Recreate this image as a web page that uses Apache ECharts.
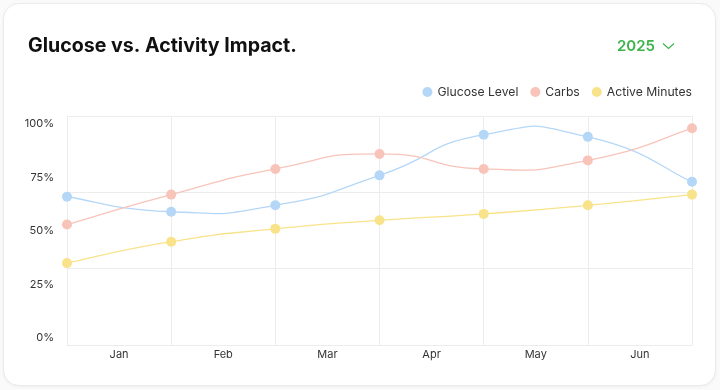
<!DOCTYPE html>
<html>
<head>
<meta charset="utf-8">
<script src="https://cdn.jsdelivr.net/npm/echarts@6/dist/echarts.min.js"></script>
<style>
  html, body { margin: 0; padding: 0; background: #fafafa; }
  #card { position: absolute; left: 3px; top: 3px; width: 711px; height: 381px; background: #fff;
          border: 1px solid #ebebeb; border-radius: 16px; box-shadow: 0 1px 3px rgba(0,0,0,0.05); }
  #chart { position: absolute; left: 0; top: 0; width: 720px; height: 390px; }
</style>
</head>
<body>
<div id="card"></div>
<div id="chart"></div>
<script>
// Point positions (7 points) and visible month labels (6, centred between points)
const pointLabels = ['Jan', 'Feb', 'Mar', 'Apr', 'May', 'Jun', 'Jul'];
const monthLabels = ['Jan', 'Feb', 'Mar', 'Apr', 'May', 'Jun'];
const glucoseLevel = [66, 59, 62, 76, 95, 94, 73];
const carbs = [53, 67, 79, 86, 79, 83, 98];
const activeMinutes = [35, 45, 51, 55, 58, 62, 67];
const gridBands = [0, 1, 2, 3];

const FONT = 'Inter, "Noto Sans", sans-serif';
const TENSION = 0.3;
const chart = echarts.init(document.getElementById('chart'), null, { renderer: 'canvas' });

const dotSeries = (name, data, color) => ({
  name, type: 'line', data,
  xAxisIndex: 2, yAxisIndex: 1, z: 3,
  symbol: 'circle', symbolSize: 10,
  itemStyle: { color },
  lineStyle: { color, width: 0, opacity: 0 },
  emphasis: { disabled: true },
  clip: false
});

const curveSeries = (name, values, color) => ({
  name, type: 'custom', xAxisIndex: 2, yAxisIndex: 1, z: 2, clip: false,
  data: values.map((v, i) => [i, v]),
  silent: true,
  renderItem: (params, api) => {
    const i = params.dataIndex;
    const n = values.length;
    if (i >= n - 1) return null;
    const pt = k => { const j = Math.max(0, Math.min(n - 1, k)); return api.coord([j, values[j]]); };
    const p0 = pt(i - 1), p1 = pt(i), p2 = pt(i + 1), p3 = pt(i + 2);
    return {
      type: 'bezierCurve',
      shape: {
        x1: p1[0], y1: p1[1], x2: p2[0], y2: p2[1],
        cpx1: p1[0] + TENSION * (p2[0] - p0[0]), cpy1: p1[1] + TENSION * (p2[1] - p0[1]),
        cpx2: p2[0] - TENSION * (p3[0] - p1[0]), cpy2: p2[1] - TENSION * (p3[1] - p1[1])
      },
      style: { stroke: color, lineWidth: 1.3, fill: null }
    };
  }
});

chart.setOption({
  animation: false,
  backgroundColor: 'transparent',
  textStyle: { fontFamily: FONT },
  graphic: [
    { type: 'text', left: 28, top: 36, style: { text: 'Glucose vs. Activity Impact.', font: '700 19.6px ' + FONT, fill: '#111' } },
    { type: 'text', left: 617, top: 39, style: { text: '2025', font: '600 15px ' + FONT, fill: '#3bb44a' } },
    { type: 'polyline', shape: { points: [[663, 43.5], [668.5, 48.5], [674, 43.5]] }, style: { stroke: '#3bb44a', lineWidth: 1.2, fill: null } }
  ],
  legend: {
    right: 23, top: 81,
    icon: 'circle', itemWidth: 10, itemHeight: 10, itemGap: 12,
    textStyle: { fontSize: 12.2, color: '#333', fontFamily: FONT },
    data: ['Glucose Level', 'Carbs', 'Active Minutes']
  },
  grid: [
    { left: 67, right: 28, top: 116, bottom: 45 },
    { left: 67, right: 28, top: 124, bottom: 52 }
  ],
  xAxis: [
    { gridIndex: 0, type: 'category', data: pointLabels, boundaryGap: false,
      axisLine: { show: true, lineStyle: { color: '#ececec' } }, axisTick: { show: false },
      axisLabel: { show: false }, splitLine: { show: true, lineStyle: { color: '#ececec' } } },
    { gridIndex: 0, type: 'category', data: monthLabels, boundaryGap: true, position: 'bottom',
      axisLine: { show: false }, axisTick: { show: false }, splitLine: { show: false },
      axisLabel: { show: true, margin: 4, fontSize: 11, color: '#333', fontFamily: FONT } },
    { gridIndex: 1, type: 'category', data: pointLabels, boundaryGap: false, show: false }
  ],
  yAxis: [
    { gridIndex: 0, type: 'value', min: gridBands[0], max: gridBands[gridBands.length - 1], interval: 1,
      axisLine: { show: false }, axisTick: { show: false }, axisLabel: { show: false },
      splitLine: { show: true, lineStyle: { color: '#ececec' } } },
    { gridIndex: 1, type: 'value', min: 0, max: 100, interval: 25,
      axisLine: { show: false }, axisTick: { show: false }, splitLine: { show: false },
      axisLabel: { margin: 13, fontSize: 11, color: '#333', fontFamily: FONT, formatter: '{value}%' } }
  ],
  series: [
    dotSeries('Glucose Level', glucoseLevel, '#b5d7f7'),
    dotSeries('Carbs', carbs, '#f8c4ba'),
    dotSeries('Active Minutes', activeMinutes, '#f9e38a'),
    curveSeries('Glucose Level', glucoseLevel, '#b5d7f7'),
    curveSeries('Carbs', carbs, '#f8c4ba'),
    curveSeries('Active Minutes', activeMinutes, '#f9e38a')
  ]
});
</script>
</body>
</html>
